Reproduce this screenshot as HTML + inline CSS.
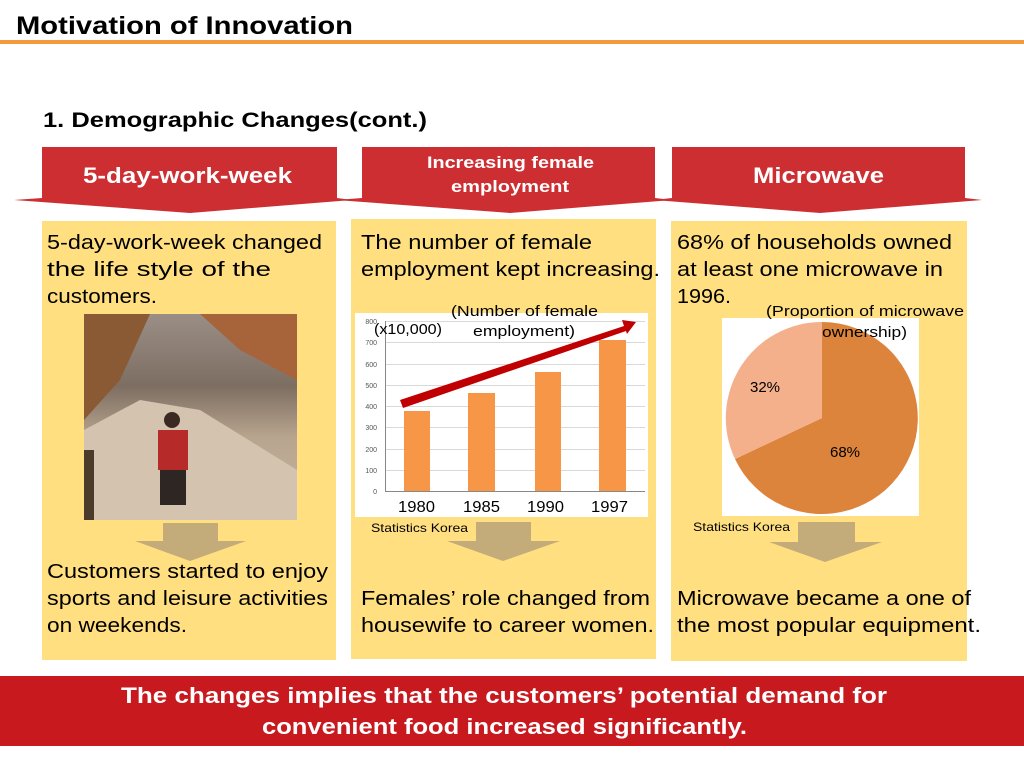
<!DOCTYPE html>
<html><head><meta charset="utf-8"><style>
html,body{margin:0;padding:0;background:#fff;}
svg{display:block;font-family:"Liberation Sans","Noto Sans CJK KR",sans-serif;}
</style></head><body>
<svg width="1024" height="768" viewBox="0 0 1024 768" xmlns="http://www.w3.org/2000/svg">
<rect width="1024" height="768" fill="#fff"/>
<text x="16" y="34" font-size="25" font-weight="bold" fill="#000" textLength="337" lengthAdjust="spacingAndGlyphs">Motivation of Innovation</text>
<rect x="0" y="40" width="1024" height="4" fill="#F39A3C"/>
<text x="43" y="127" font-size="21" font-weight="bold" fill="#000" textLength="384" lengthAdjust="spacingAndGlyphs">1. Demographic Changes(cont.)</text>

<g fill="#CC2E31">
<polygon points="42,147 337,147 337,198 352,200 190,213 14,200 42,198"/>
<polygon points="362,147 655,147 655,198 672,200 510,213 336,200 362,198"/>
<polygon points="672,147 965,147 965,198 982,200 820,213 654,200 672,198"/>
</g>
<g fill="#fff" font-weight="bold">
<text x="83" y="183" font-size="22" textLength="209" lengthAdjust="spacingAndGlyphs">5-day-work-week</text>
<text x="427" y="168" font-size="17" textLength="167" lengthAdjust="spacingAndGlyphs">Increasing female</text>
<text x="451" y="192" font-size="17" textLength="118" lengthAdjust="spacingAndGlyphs">employment</text>
<text x="753" y="183" font-size="22" textLength="131" lengthAdjust="spacingAndGlyphs">Microwave</text>
</g>

<g fill="#FFDF80">
<rect x="42" y="221" width="294" height="439"/>
<rect x="351" y="219" width="305" height="440"/>
<rect x="671" y="221" width="296" height="440"/>
</g>

<g font-size="20" fill="#000" lengthAdjust="spacingAndGlyphs">
<text x="47" y="249" textLength="275" lengthAdjust="spacingAndGlyphs">5-day-work-week changed</text>
<text x="47" y="276" textLength="224" lengthAdjust="spacingAndGlyphs">the life style of the</text>
<text x="47" y="303" textLength="110" lengthAdjust="spacingAndGlyphs">customers.</text>
<text x="361" y="249" textLength="231" lengthAdjust="spacingAndGlyphs">The number of female</text>
<text x="361" y="276" textLength="299" lengthAdjust="spacingAndGlyphs">employment kept increasing.</text>
<text x="677" y="249" textLength="275" lengthAdjust="spacingAndGlyphs">68% of households owned</text>
<text x="677" y="276" textLength="266" lengthAdjust="spacingAndGlyphs">at least one microwave in</text>
<text x="677" y="303" textLength="54" lengthAdjust="spacingAndGlyphs">1996.</text>
<text x="47" y="578" textLength="281" lengthAdjust="spacingAndGlyphs">Customers started to enjoy</text>
<text x="47" y="605" textLength="281" lengthAdjust="spacingAndGlyphs">sports and leisure activities</text>
<text x="47" y="632" textLength="140" lengthAdjust="spacingAndGlyphs">on weekends.</text>
<text x="361" y="605" textLength="289" lengthAdjust="spacingAndGlyphs">Females’ role changed from</text>
<text x="361" y="632" textLength="293" lengthAdjust="spacingAndGlyphs">housewife to career women.</text>
<text x="677" y="605" textLength="294" lengthAdjust="spacingAndGlyphs">Microwave became a one of</text>
<text x="677" y="632" textLength="304" lengthAdjust="spacingAndGlyphs">the most popular equipment.</text>
</g>

<defs>
<linearGradient id="sky" x1="0" y1="0" x2="0" y2="1">
<stop offset="0" stop-color="#9a8e86"/><stop offset="0.35" stop-color="#7d6e62"/><stop offset="0.6" stop-color="#b8a58f"/><stop offset="1" stop-color="#c9b6a0"/>
</linearGradient>
</defs>
<rect x="84" y="314" width="213" height="206" fill="url(#sky)"/>
<polygon points="84,314 150,314 120,380 84,420" fill="#8a5a35"/>
<polygon points="200,314 297,314 297,380 240,350" fill="#a7643a"/>
<polygon points="84,430 140,400 200,410 297,470 297,520 84,520" fill="#d4c3ae"/>
<rect x="158" y="430" width="30" height="40" fill="#b72a2a"/>
<circle cx="172" cy="420" r="8" fill="#3a2a22"/>
<rect x="160" y="470" width="26" height="35" fill="#2d2623"/>
<rect x="84" y="450" width="10" height="70" fill="#4a3b2a"/>

<rect x="355" y="313" width="293" height="204" fill="#fff"/>
<g stroke="#d9d9d9" stroke-width="1">
<line x1="385" y1="321.5" x2="645" y2="321.5"/>
<line x1="385" y1="342.5" x2="645" y2="342.5"/>
<line x1="385" y1="364.5" x2="645" y2="364.5"/>
<line x1="385" y1="385.5" x2="645" y2="385.5"/>
<line x1="385" y1="406.5" x2="645" y2="406.5"/>
<line x1="385" y1="427.5" x2="645" y2="427.5"/>
<line x1="385" y1="449.5" x2="645" y2="449.5"/>
<line x1="385" y1="470.5" x2="645" y2="470.5"/>
</g>
<line x1="385" y1="491.5" x2="645" y2="491.5" stroke="#888"/>
<line x1="385.5" y1="321" x2="385.5" y2="492" stroke="#888"/>
<g font-size="7" fill="#555" text-anchor="end">
<text x="377" y="324">800</text><text x="377" y="345">700</text><text x="377" y="367">600</text><text x="377" y="388">500</text><text x="377" y="409">400</text><text x="377" y="430">300</text><text x="377" y="452">200</text><text x="377" y="473">100</text><text x="377" y="494">0</text>
</g>
<g fill="#F79646">
<rect x="404" y="411" width="26" height="80"/>
<rect x="468" y="393" width="27" height="98"/>
<rect x="535" y="372" width="26" height="119"/>
<rect x="599" y="340" width="27" height="151"/>
</g>
<g font-size="16" fill="#000">
<text x="398" y="512" textLength="37" lengthAdjust="spacingAndGlyphs">1980</text>
<text x="463" y="512" textLength="37" lengthAdjust="spacingAndGlyphs">1985</text>
<text x="527" y="512" textLength="37" lengthAdjust="spacingAndGlyphs">1990</text>
<text x="591" y="512" textLength="37" lengthAdjust="spacingAndGlyphs">1997</text>
</g>
<polygon points="400,400 624,326 622,320 636,322 627,334 626,331 403,408" fill="#C00000"/>
<g font-size="15" fill="#000">
<text x="374" y="334" textLength="68" lengthAdjust="spacingAndGlyphs">(x10,000)</text>
<text x="451" y="316" textLength="147" lengthAdjust="spacingAndGlyphs">(Number of female</text>
<text x="473" y="336" textLength="102" lengthAdjust="spacingAndGlyphs">employment)</text>
</g>
<text x="371" y="532" font-size="12" fill="#000" textLength="97" lengthAdjust="spacingAndGlyphs">Statistics Korea</text>

<rect x="722" y="318" width="197" height="198" fill="#fff"/>
<path d="M822,418 L822,322 A96,96 0 1,1 735,459 Z" fill="#DD843C"/>
<path d="M822,418 L735,459 A96,96 0 0,1 822,322 Z" fill="#F4B08A"/>
<g font-size="15" fill="#000">
<text x="766" y="316" textLength="198" lengthAdjust="spacingAndGlyphs">(Proportion of microwave</text>
<text x="822" y="337" textLength="85" lengthAdjust="spacingAndGlyphs">ownership)</text>
<text x="750" y="392">32%</text>
<text x="830" y="457">68%</text>
</g>
<text x="693" y="531" font-size="12" fill="#000" textLength="97" lengthAdjust="spacingAndGlyphs">Statistics Korea</text>

<g fill="#C3AB7A">
<polygon points="163,523 218,523 218,541 246,541 190,561 135,541 163,541"/>
<polygon points="476,522 531,522 531,541 560,541 503,561 447,541 476,541"/>
<polygon points="798,522 855,522 855,542 882,542 825,562 769,542 798,542"/>
</g>

<rect x="0" y="676" width="1024" height="70" fill="#C8191E"/>
<g fill="#fff" font-size="22" font-weight="bold">
<text x="121" y="703" textLength="766" lengthAdjust="spacingAndGlyphs">The changes implies that the customers’ potential demand for</text>
<text x="262" y="734" textLength="485" lengthAdjust="spacingAndGlyphs">convenient food increased significantly.</text>
</g>
</svg>
</body></html>
